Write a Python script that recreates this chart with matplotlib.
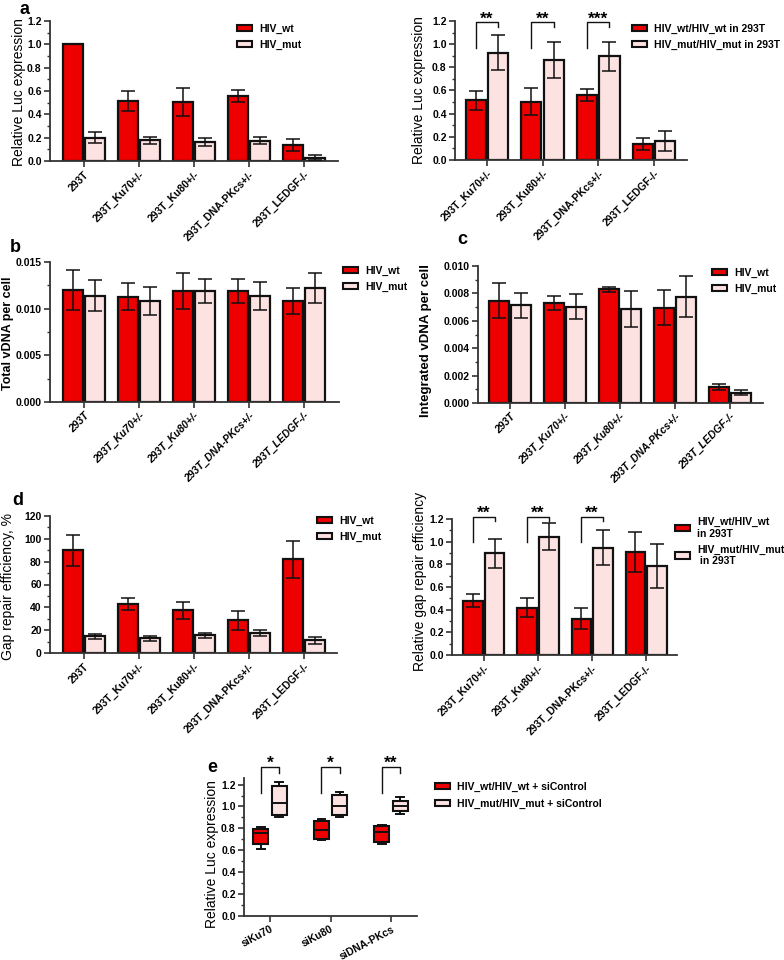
import matplotlib
matplotlib.use('Agg')
import matplotlib.pyplot as plt
import numpy as np
from matplotlib.patches import Patch
from matplotlib.ticker import MultipleLocator, FormatStrFormatter

plt.rcParams['font.family'] = ['Liberation Sans', 'DejaVu Sans']

# ---- data ----
cells = ['293T', '293T_Ku70+/-', '293T_Ku80+/-', '293T_DNA-PKcs+/-', '293T_LEDGF-/-']
ko_cells = cells[1:]

a_wt = [1.0, 0.515, 0.505, 0.56, 0.14]
a_wt_err = [0, 0.085, 0.12, 0.052, 0.05]
a_mut = [0.20, 0.18, 0.165, 0.175, 0.03]
a_mut_err = [0.045, 0.03, 0.035, 0.027, 0.02]

a_rel_wt = [0.515, 0.505, 0.56, 0.14]
a_rel_wt_err = [0.085, 0.12, 0.052, 0.052]
a_rel_mut = [0.925, 0.865, 0.895, 0.165]
a_rel_mut_err = [0.15, 0.155, 0.125, 0.085]
a_rel_stars = ['**', '**', '***']

b_wt = [0.0120, 0.0113, 0.0119, 0.0119, 0.0108]
b_wt_err = [0.0021, 0.0014, 0.0019, 0.0013, 0.0014]
b_mut = [0.0114, 0.0108, 0.0119, 0.0114, 0.0122]
b_mut_err = [0.0017, 0.0015, 0.0013, 0.0015, 0.0016]

c_wt = [0.00748, 0.00729, 0.0083, 0.00697, 0.00116]
c_wt_err = [0.0013, 0.0005, 0.0002, 0.0013, 0.0002]
c_mut = [0.00714, 0.00702, 0.00688, 0.00777, 0.00075]
c_mut_err = [0.0009, 0.0009, 0.0013, 0.0015, 0.00018]

d_wt = [90, 42.7, 37.5, 28.5, 82]
d_wt_err = [13.5, 5.3, 7.3, 8.2, 16]
d_mut = [14.5, 12.8, 15.4, 17.4, 11.3]
d_mut_err = [1.8, 2.2, 2.3, 2.6, 3.0]

d_rel_wt = [0.478, 0.419, 0.319, 0.909]
d_rel_wt_err = [0.058, 0.081, 0.092, 0.18]
d_rel_mut = [0.897, 1.044, 0.947, 0.785]
d_rel_mut_err = [0.126, 0.118, 0.153, 0.195]
d_rel_stars = ['**', '**', '**']

si_labels = ['siKu70', 'siKu80', 'siDNA-PKcs']
e_wt_lo = [0.61, 0.69, 0.655]
e_wt_q1 = [0.655, 0.70, 0.675]
e_wt_med = [0.76, 0.785, 0.77]
e_wt_q3 = [0.79, 0.87, 0.825]
e_wt_hi = [0.81, 0.89, 0.83]
e_mut_lo = [0.90, 0.905, 0.935]
e_mut_q1 = [0.92, 0.92, 0.955]
e_mut_med = [1.03, 1.0, 1.0]
e_mut_q3 = [1.19, 1.105, 1.05]
e_mut_hi = [1.225, 1.135, 1.085]
e_stars = ['*', '*', '**']

# ---- style ----
W, H = 784, 960
RED = '#ee0000'
PINK = '#fde2e2'
EDGE = '#111111'
AXC = '#333333'


def axes_at(fig, x0, x1, ytop, ybot):
    return fig.add_axes([x0 / W, 1 - ybot / H, (x1 - x0) / W, (ybot - ytop) / H])


def style_axis(ax, xlim, ylim, major, minor, fmt, labels, italic=False, rot=45):
    for s in ('top', 'right'):
        ax.spines[s].set_visible(False)
    for s in ('left', 'bottom'):
        ax.spines[s].set_linewidth(1.3)
        ax.spines[s].set_color(AXC)
    ax.set_xlim(*xlim)
    ax.set_ylim(*ylim)
    ax.yaxis.set_major_locator(MultipleLocator(major))
    ax.yaxis.set_minor_locator(MultipleLocator(minor))
    ax.yaxis.set_major_formatter(FormatStrFormatter(fmt))
    ax.set_xticks(range(len(labels)))
    ax.set_xticklabels(labels, rotation=rot, ha='right', va='top',
                       rotation_mode='anchor', fontsize=7.5, fontweight='bold',
                       style='italic' if italic else 'normal')
    ax.tick_params(axis='both', which='major', length=4, width=1.2, color=AXC, pad=2)
    ax.tick_params(axis='y', which='minor', length=2, width=1.0, color=AXC)
    ax.tick_params(axis='y', labelsize=7.5)
    for lab in ax.get_yticklabels():
        lab.set_fontweight('bold')


def draw_bars(ax, wt, wt_err, mut, mut_err):
    x = np.arange(len(wt))
    for off, vals, errs, col in ((-0.2, wt, wt_err, RED), (0.2, mut, mut_err, PINK)):
        vals = np.asarray(vals, float)
        errs = np.asarray(errs, float)
        ax.bar(x + off, vals, width=0.36, color=col, edgecolor=EDGE, linewidth=1.6, zorder=2)
        keep = errs > 0
        ax.errorbar((x + off)[keep], vals[keep], yerr=errs[keep], fmt='none', ecolor=EDGE,
                    elinewidth=1.1, capsize=5, capthick=1.1, zorder=3)


def bracket(ax, x0, x1, top, left_low, right_low, stars):
    ax.plot([x0, x0, x1, x1], [left_low, top, top, right_low], color=EDGE, lw=1.0,
            clip_on=False)
    ax.annotate(stars, ((x0 + x1) / 2, top), xytext=(0, -3), textcoords='offset points',
                ha='center', va='bottom', fontsize=12.5, fontweight='bold',
                annotation_clip=False)


def legend_at(ax, labels, x, y, spacing=0.55):
    handles = [Patch(facecolor=RED, edgecolor=EDGE, linewidth=1.5),
               Patch(facecolor=PINK, edgecolor=EDGE, linewidth=1.5)]
    ax.legend(handles, labels, loc='upper left', bbox_to_anchor=(x / W, 1 - y / H),
              bbox_transform=ax.figure.transFigure, frameon=False, borderpad=0,
              borderaxespad=0, handlelength=1.4, handleheight=0.55, handletextpad=0.7,
              labelspacing=spacing, prop={'size': 7.5, 'weight': 'bold'})


def ylabel_at(fig, x, y, text, size=10, weight='normal'):
    fig.text(x / W, 1 - y / H, text, rotation=90, ha='center', va='center',
             fontsize=size, fontweight=weight)


def letter(fig, x, y, s):
    fig.text(x / W, 1 - y / H, s, ha='center', va='center', fontsize=13, fontweight='bold')


fig = plt.figure(figsize=(7.84, 9.6), dpi=100)

# a, left
ax = axes_at(fig, 50, 338, 21, 161)
draw_bars(ax, a_wt, a_wt_err, a_mut, a_mut_err)
style_axis(ax, (-0.62, 4.62), (0, 1.2), 0.2, 0.1, '%.1f', cells)
legend_at(ax, ['HIV_wt', 'HIV_mut'], 237, 24)
ylabel_at(fig, 19, 92, 'Relative Luc expression')
letter(fig, 25, 10, 'a')

# a, right
ax = axes_at(fig, 455, 687, 21, 160)
draw_bars(ax, a_rel_wt, a_rel_wt_err, a_rel_mut, a_rel_mut_err)
style_axis(ax, (-0.57, 3.59), (0, 1.2), 0.2, 0.1, '%.1f', ko_cells)
for i, s in enumerate(a_rel_stars):
    bracket(ax, i - 0.2, i + 0.2, 1.19, 0.97, 1.15, s)
legend_at(ax, ['HIV_wt/HIV_wt in 293T', 'HIV_mut/HIV_mut in 293T'], 632, 24)
ylabel_at(fig, 419, 90, 'Relative Luc expression')

# b
ax = axes_at(fig, 50, 339, 262, 402)
draw_bars(ax, b_wt, b_wt_err, b_mut, b_mut_err)
style_axis(ax, (-0.62, 4.64), (0, 0.015), 0.005, 0.0025, '%.3f', cells, italic=True)
legend_at(ax, ['HIV_wt', 'HIV_mut'], 343, 266)
ylabel_at(fig, 8, 333, 'Total vDNA per cell', size=9, weight='bold')
letter(fig, 15, 248, 'b')

# c
ax = axes_at(fig, 478, 763, 266, 403)
draw_bars(ax, c_wt, c_wt_err, c_mut, c_mut_err)
style_axis(ax, (-0.58, 4.6), (0, 0.010), 0.002, 0.001, '%.3f', cells, italic=True)
legend_at(ax, ['HIV_wt', 'HIV_mut'], 712, 268)
ylabel_at(fig, 426, 340, 'Integrated vDNA per cell', size=9.5, weight='bold')
letter(fig, 462, 240, 'c')

# d, left
ax = axes_at(fig, 50, 337, 516, 653)
draw_bars(ax, d_wt, d_wt_err, d_mut, d_mut_err)
style_axis(ax, (-0.62, 4.6), (0, 120), 20, 10, '%d', cells)
legend_at(ax, ['HIV_wt', 'HIV_mut'], 317, 516)
ylabel_at(fig, 8, 587, 'Gap repair efficiency, %')
letter(fig, 18, 500, 'd')

# d, right
ax = axes_at(fig, 452, 677, 519, 655)
draw_bars(ax, d_rel_wt, d_rel_wt_err, d_rel_mut, d_rel_mut_err)
style_axis(ax, (-0.59, 3.57), (0, 1.2), 0.2, 0.1, '%.1f', ko_cells)
for i, s in enumerate(d_rel_stars):
    bracket(ax, i - 0.2, i + 0.2, 1.22, 1.0, 1.18, s)
legend_at(ax, ['HIV_wt/HIV_wt\nin 293T', 'HIV_mut/HIV_mut\n in 293T'], 675, 517)
ylabel_at(fig, 420, 581, 'Relative gap repair efficiency')

# e
ax = axes_at(fig, 244, 417, 778, 916)
x = np.arange(len(si_labels))
for off, col, lo, q1, med, q3, hi in ((-0.15, RED, e_wt_lo, e_wt_q1, e_wt_med, e_wt_q3, e_wt_hi),
                                      (0.15, PINK, e_mut_lo, e_mut_q1, e_mut_med, e_mut_q3, e_mut_hi)):
    stats = [dict(whislo=a, q1=b, med=c, q3=d, whishi=e, fliers=[])
             for a, b, c, d, e in zip(lo, q1, med, q3, hi)]
    ax.bxp(stats, positions=x + off, widths=0.25, capwidths=0.12, patch_artist=True,
           showfliers=False, manage_ticks=False,
           boxprops=dict(facecolor=col, edgecolor=EDGE, linewidth=1.5),
           medianprops=dict(color=EDGE, linewidth=1.4),
           whiskerprops=dict(color=EDGE, linewidth=1.4),
           capprops=dict(color=EDGE, linewidth=1.4))
style_axis(ax, (-0.43, 2.43), (0, 1.26), 0.2, 0.1, '%.1f', si_labels, rot=28)
for i, s in enumerate(e_stars):
    bracket(ax, i - 0.15, i + 0.15, 1.36, 1.12, 1.31, s)
legend_at(ax, ['HIV_wt/HIV_wt + siControl', 'HIV_mut/HIV_mut + siControl'], 435, 782, 0.65)
ylabel_at(fig, 212, 854, 'Relative Luc expression')
letter(fig, 212, 767, 'e')

fig.savefig('out.png', dpi=100, facecolor='white')
